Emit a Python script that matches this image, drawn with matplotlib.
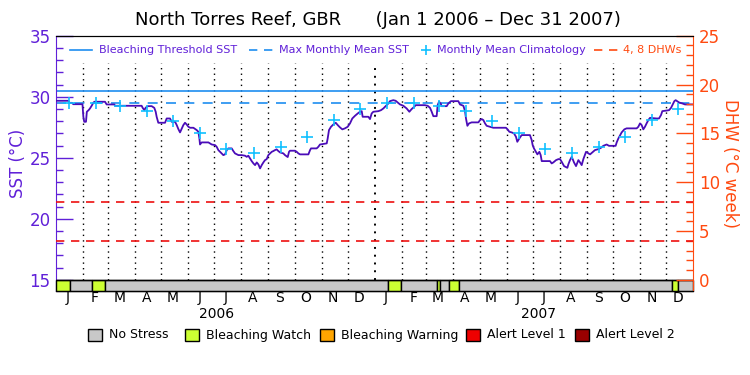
import matplotlib
matplotlib.use("Agg")
import matplotlib.pyplot as plt
from matplotlib.patches import Rectangle
from matplotlib.lines import Line2D
import numpy as np

# ---------------- data ----------------
sst_day = [0, 14, 15, 18, 19.5, 30, 31, 32, 34, 35, 37, 38.6, 40.5, 42.4, 43.6, 55.8, 57.7, 66.5, 67.3,
           97.8, 99, 100.9, 102.4, 104.7, 109.3, 112.3, 113.9, 115, 116.9, 124.6,
           126.5, 130.3, 132.3, 136.1, 138, 139.9, 141.8, 143, 145.6, 147.5, 149.4, 151.4, 153.3, 157.1,
           160.9, 162.8, 164, 164.7, 166.6, 174.3, 176.2, 178.1, 181.9, 183.8, 185.7, 187.6, 189.5,
           191.4, 193.4, 195.3, 197.2, 201, 202.9, 204.8, 208.7, 212.5, 216.3, 218.2, 220.1, 222,
           223.9, 225.9, 227.8, 229.7, 231.6, 233.5, 235.4, 237.3, 239.2, 241.1, 243, 245,
           246.9, 248.7, 250.6, 252.5, 254.5, 256.4, 260.2, 262.1, 265.2, 266.7, 267.8, 273.6, 275.5,
           277.4, 279.3, 288.9, 290.8, 291.9, 298.4, 300.3, 302.2, 309.9, 311, 312.5, 314.8, 317.5,
           320.2, 322.5, 325.1, 327.8, 330.8, 333.9, 336.6, 339.2, 342.3, 345.4, 348, 350, 351.1,
           357.6, 359.5, 361.4, 363.3, 369.1, 372.1, 374.8, 376.7, 378.6, 380.5, 382.4, 386.2,
           388.9, 391.2, 393.9, 397.7, 401.5, 404.6, 407.2, 410.3, 411.8, 422.5, 425.6, 428.3, 430.2,
           432.1, 435.9, 437, 438.6, 440.5, 441.6, 447.4, 449.3, 452.3, 460.7, 462.6, 466.5, 468.4,
           469.5, 471.1, 473, 476, 483.7, 485.6, 487.5, 489.4, 491.3, 493.2, 497, 500.8, 515.3,
           516.9, 519.2, 521.8, 524.5, 526.8, 528.3, 530.6, 533.3, 542.8, 544.8, 545.9, 547.4, 549.7,
           551.3, 553.6, 555.1, 556.3, 565.8, 567.7, 569.6, 572.7, 575.4, 577.3, 579.2, 581.9, 585.7,
           586.8, 588.7, 590.7, 593.3, 595.6, 598.3, 600.2, 602.1, 604, 607.1, 609.8, 611.7, 614.3,
           617.3, 621.2, 624.2, 626.9, 630.7, 633.4, 641, 642.2, 644.1, 647.9, 651, 653.6, 665.1,
           667, 668.9, 670.8, 672.7, 674.6, 676.5, 678.5, 680.4, 688, 690.7, 693, 694.5, 702.2,
           704.5, 706, 708.3, 709.8, 713.7, 717.5, 720.5, 730]
sst_val = [29.67, 29.67, 29.5, 29.5, 29.39, 29.39, 28.36, 27.95, 27.95, 28.77, 28.9, 29.04, 29.26, 29.5,
           29.59, 29.59, 29.37, 29.37, 29.26,
           29.26, 29.09, 28.9, 29.1, 29.23, 29.23, 29.09, 28.77, 28.36, 27.87, 27.87,
           28.22, 28.22, 27.95, 27.95, 27.68, 27.35, 27.08, 27.27, 27.68, 27.87, 27.73, 27.54, 27.46, 27.46,
           27.27, 27.13, 26.58, 26.09, 26.26, 26.26, 26.18, 26.09, 26.04, 25.9, 25.63, 25.49, 25.36,
           25.22, 25.28, 25.63, 25.77, 25.77, 25.55, 25.36, 25.22, 25.22, 25.17, 25.08, 25.17, 24.95,
           24.73, 24.54, 24.4, 24.62, 24.46, 24.13, 24.4, 24.62, 24.81, 24.89, 25.22, 25.36,
           25.49, 25.55, 25.63, 25.69, 25.55, 25.44, 25.36, 25.22, 25.06, 25.49, 25.58, 25.58, 25.49,
           25.36, 25.28, 25.28, 25.63, 25.77, 25.77, 25.9, 26.09, 26.18, 26.58, 27.27, 27.54, 27.73,
           27.87, 27.68, 27.49, 27.33, 27.41, 27.54, 27.82, 28.22, 28.44, 28.63, 28.77, 28.82, 28.36,
           28.36, 28.17, 28.63, 28.77, 28.82, 28.9, 29.04, 29.18, 29.31, 29.45, 29.64, 29.72,
           29.67, 29.53, 29.37, 29.26, 29.04, 28.77, 28.99, 29.18, 29.31, 29.31, 29.26, 29.09, 28.77,
           28.41, 28.41, 29.31, 29.59, 29.45, 29.23, 29.23, 29.45, 29.64, 29.64, 29.37, 29.26, 28.82,
           28.22, 27.62, 27.82, 27.9, 27.9, 28.09, 28.17, 28.09, 27.82, 27.62, 27.54, 27.46, 27.46,
           27.35, 27.13, 27.08, 27.0, 26.72, 26.31, 26.58, 26.86, 26.86, 26.45, 26.04, 25.77, 25.49,
           25.28, 25.49, 25.22, 24.73, 24.73, 24.54, 24.62, 24.81, 24.89, 24.89, 24.67, 24.32, 24.18,
           24.46, 24.81, 25.08, 24.62, 24.32, 24.81, 24.62, 24.4, 24.89, 25.49, 25.36, 25.28, 25.44,
           25.63, 25.71, 25.82, 25.98, 26.09, 25.98, 25.98, 26.26, 26.58, 27.08, 27.33, 27.41, 27.41,
           27.54, 27.82, 27.68, 27.33, 27.54, 27.82, 28.09, 28.27, 28.22, 28.22, 28.5, 28.82, 28.9,
           29.09, 29.31, 29.64, 29.72, 29.53, 29.45, 29.37, 29.37]

month_letters = ['J', 'F', 'M', 'A', 'M', 'J', 'J', 'A', 'S', 'O', 'N', 'D']
years = ['2006', '2007']
clim_sst = [29.45, 29.5, 29.23, 28.85, 28.03, 27.0, 25.75, 25.42, 25.86, 26.67, 28.1, 28.97]
mmm_sst = 29.5
threshold_sst = 30.5
dhw_levels = [4, 8]

status_start = [0, 15.7, 40.6, 55.8, 380.5, 395, 436.6, 440, 450.4, 461.8, 706, 712.8]
status_end = [15.7, 40.6, 55.8, 380.5, 395, 436.6, 440, 450.4, 461.8, 706, 712.8, 730]
status_level = [1, 0, 1, 0, 1, 0, 1, 0, 1, 0, 1, 0]
status_names = ['No Stress', 'Bleaching Watch', 'Bleaching Warning', 'Alert Level 1', 'Alert Level 2']
status_colors = ['#c8c8c8', '#ccff33', '#ffa500', '#ee0000', '#990000']

# ---------------- style ----------------
PURPLE = '#6020d8'
LINEP = '#4a0cb8'
ORANGE = '#ff4a10'
BLUE = '#1e8ef0'
CYAN = '#10c0ff'
RED = '#ee1111'
plt.rcParams['font.family'] = ['DejaVu Sans']

W, H = 750, 375
fig = plt.figure(figsize=(7.5, 3.75), dpi=100)
x0, x1, ytop, ybot = 56.3, 693.3, 35.7, 291.0
ax = fig.add_axes([x0 / W, 1 - ybot / H, (x1 - x0) / W, (ybot - ytop) / H])
ylo = 14.09
ax.set_xlim(0, 730)
ax.set_ylim(ylo, 35)

# month boundaries
month_starts = []
for y in (2006, 2007):
    for m in range(1, 13):
        d = (np.datetime64(f'{y}-{m:02d}-01') - np.datetime64('2006-01-01')).astype(int)
        month_starts.append(int(d))

for d in month_starts[1:]:
    lw = 1.4 if d == 365 else 1.0
    ax.vlines(d, 15, 32.75, colors='black', linestyles=(0, (1, 3)), lw=lw, zorder=1)

# horizontal reference lines
ax.axhline(threshold_sst, color=BLUE, lw=1.2, zorder=2)
ax.axhline(mmm_sst, color=BLUE, lw=1.2, ls=(0, (6, 5)), zorder=2)

# SST line
ax.plot(sst_day, sst_val, color=LINEP, lw=1.3, zorder=4)

# climatology crosses
clim_x = [month_starts[i] + 14 for i in range(24)]
ax.plot(clim_x, clim_sst * 2, ls='none', marker='+', ms=8.5, mew=1.2, color=CYAN, zorder=5)

# status bar
for s, e, lv in zip(status_start, status_end, status_level):
    ax.add_patch(Rectangle((s, ylo), e - s, 15 - ylo, facecolor=status_colors[lv],
                           edgecolor='black', lw=1.0, zorder=3, clip_on=False))
ax.axhline(15, color='black', lw=1.0, zorder=3)

# left axis
ax.set_xticks([])
ax.set_yticks([15, 20, 25, 30, 35])
ax.set_yticks(np.arange(15, 36, 1), minor=True)
ax.tick_params(axis='y', which='major', direction='in', length=12, width=1, color=PURPLE,
               labelcolor=PURPLE, labelsize=12, pad=4)
ax.tick_params(axis='y', which='minor', direction='in', length=5, width=1, color=PURPLE)
ax.spines['left'].set_color(PURPLE)
ax.spines['right'].set_visible(False)
ax.set_ylabel('SST (°C)', color=PURPLE, fontsize=12, labelpad=2)

# right axis (DHW)
ax2 = ax.twinx()
ax2.set_ylim((ylo - 15) / 0.8, 25)
for lvl in dhw_levels:
    ax2.axhline(lvl, color=RED, lw=1.2, ls=(0, (5, 4)), zorder=2)
ax2.set_yticks([0, 5, 10, 15, 20, 25])
ax2.set_yticks(np.arange(0, 26, 1), minor=True)
ax2.tick_params(axis='y', which='major', direction='in', length=12, width=1, color=ORANGE,
                labelcolor=ORANGE, labelsize=12, pad=4)
ax2.tick_params(axis='y', which='minor', direction='in', length=5, width=1, color=ORANGE)
ax2.spines['right'].set_color(ORANGE)
ax2.spines['left'].set_visible(False)
ax2.set_ylabel('DHW (°C week)', color=ORANGE, fontsize=12, rotation=-90, labelpad=14)

# month and year labels
for i in range(24):
    ax.text(month_starts[i] + 13, 1 - (298 - ytop) / (ybot - ytop), month_letters[i % 12],
            transform=ax.get_xaxis_transform(), ha='center', va='center', fontsize=10)
for yl, d in zip(years, [184, 553]):
    ax.text(d, 1 - (314 - ytop) / (ybot - ytop), yl, transform=ax.get_xaxis_transform(),
            ha='center', va='center', fontsize=10)

def fx(px):
    return px / W

def fy(py):
    return 1 - py / H

# title
fig.text(fx(378), fy(20), 'North Torres Reef, GBR      (Jan 1 2006 – Dec 31 2007)',
         ha='center', va='center', fontsize=13)

# top legend
ly = 50
LFS = 8
fig.add_artist(Line2D([fx(70), fx(92)], [fy(ly), fy(ly)], color=BLUE, lw=1.2))
fig.text(fx(99), fy(ly), 'Bleaching Threshold SST', color=PURPLE, fontsize=LFS, va='center')
fig.add_artist(Line2D([fx(249), fx(273)], [fy(ly), fy(ly)], color=BLUE, lw=1.2, ls=(0, (5, 4))))
fig.text(fx(279), fy(ly), 'Max Monthly Mean SST', color=PURPLE, fontsize=LFS, va='center')
fig.add_artist(Line2D([fx(426)], [fy(ly)], color=CYAN, marker='+', ms=7, mew=1.2, ls='none'))
fig.text(fx(437), fy(ly), 'Monthly Mean Climatology', color=PURPLE, fontsize=LFS, va='center')
fig.add_artist(Line2D([fx(594), fx(618)], [fy(ly), fy(ly)], color=ORANGE, lw=1.2, ls=(0, (5, 4))))
fig.text(fx(623), fy(ly), '4, 8 DHWs', color=ORANGE, fontsize=LFS, va='center')

# bottom legend
sq_x = [88, 185, 320, 466, 575]
for name, col, sx in zip(status_names, status_colors, sq_x):
    fig.add_artist(Rectangle((fx(sx), fy(341)), 14 / W, 12 / H, facecolor=col,
                             edgecolor='black', lw=1.0, transform=fig.transFigure))
    fig.text(fx(sx + 21), fy(335), name, fontsize=9, va='center')

fig.savefig('out.png', dpi=100)
